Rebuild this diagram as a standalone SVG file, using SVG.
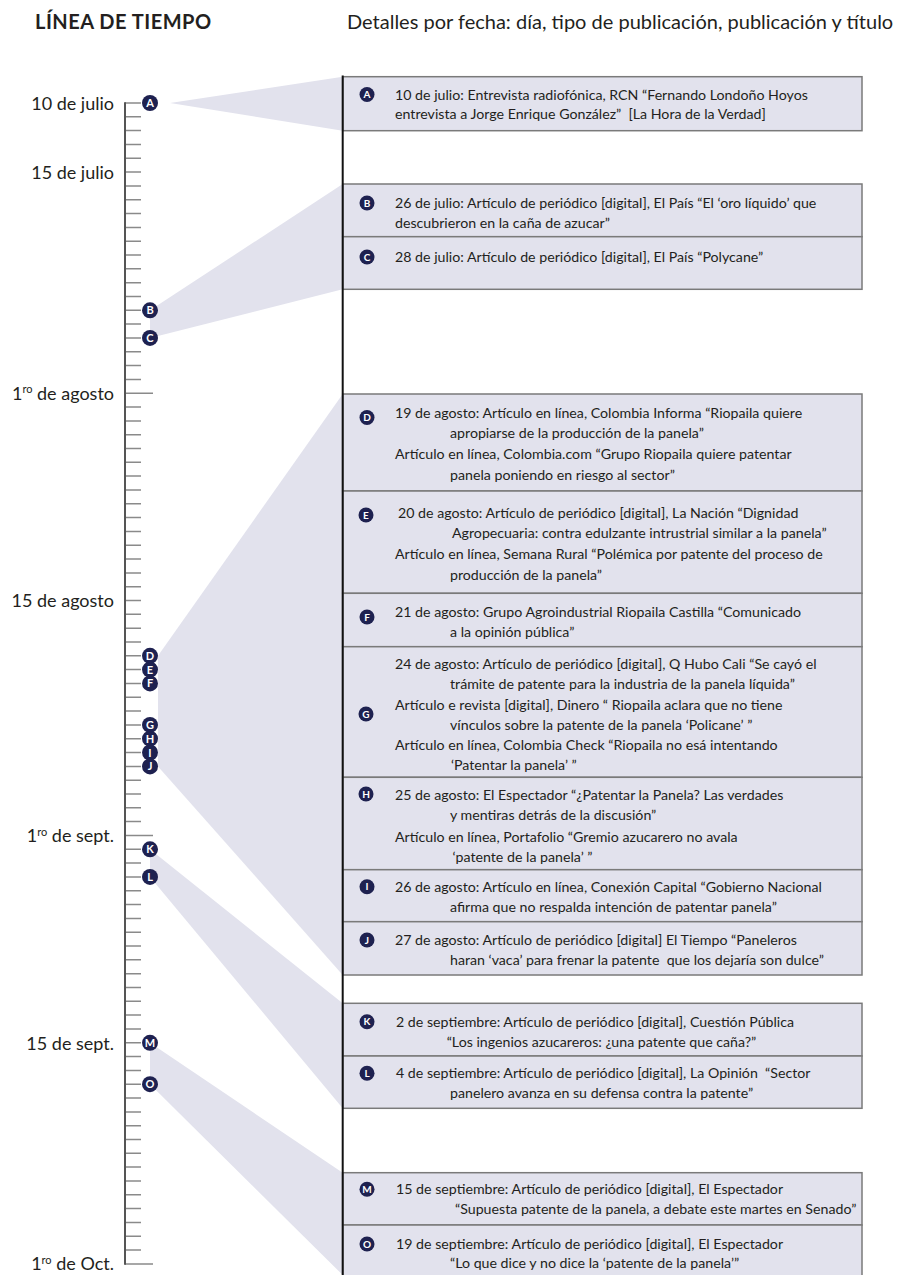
<svg xmlns="http://www.w3.org/2000/svg" width="901" height="1275" viewBox="0 0 901 1275">
<style>
.t{font-family:Lato,"Open Sans",sans-serif;font-size:14.2px;fill:#231f20;white-space:pre}
.lab{font-family:Lato,"Open Sans",sans-serif;font-size:18px;fill:#231f20;text-anchor:end}
.sup{font-size:11px}
.box{fill:#e2e2ed;stroke:#7a7a7a;stroke-width:1.5}
.wedge{fill:#e2e2ed}
.dot{fill:#1e2150}
.dl{font-family:Lato,"Open Sans",sans-serif;font-size:11px;font-weight:bold;fill:#fff;text-anchor:middle}
.bl{font-family:Lato,"Open Sans",sans-serif;font-size:10px;font-weight:bold;fill:#fff;text-anchor:middle}
</style>
<rect width="901" height="1275" fill="#fff"/>
<text x="35" y="29" style="font-family:Lato,'Open Sans',sans-serif;font-size:20px;font-weight:bold;letter-spacing:0.5px;fill:#231f20">LÍNEA DE TIEMPO</text>
<text x="347" y="29" style="font-family:Lato,'Open Sans',sans-serif;font-size:20px;fill:#231f20">Detalles por fecha: día, tipo de publicación, publicación y título</text>
<g id="connectors">
<polygon class="wedge" points="170,103 342.7,76.7 342.7,130.7"/>
<polygon class="wedge" points="150,310.3 342.7,184 342.7,289.3 150,337.9"/>
<polygon class="wedge" points="158,655.8 342.7,394 342.7,975 158,766.4"/>
<polygon class="wedge" points="150,849.3 342.7,1003.3 342.7,1108.3 150,876.9"/>
<polygon class="wedge" points="150,1042.8 342.7,1172.7 342.7,1275 150,1084.2"/>
</g>
<g id="timeline">
<path d="M125 103h16M125 116.8h16M125 130.6h16M125 144.5h16M125 158.3h16M125 172.1h16M125 185.9h16M125 199.7h16M125 213.6h16M125 227.4h16M125 241.2h16M125 255h16M125 268.8h16M125 282.7h16M125 296.5h16M125 310.3h16M125 324.1h16M125 337.9h16M125 351.8h16M125 365.6h16M125 379.4h16M125 393.2h28M125 407h16M125 420.9h16M125 434.7h16M125 448.5h16M125 462.3h16M125 476.1h16M125 490h16M125 503.8h16M125 517.6h16M125 531.4h16M125 545.2h16M125 559.1h16M125 572.9h16M125 586.7h16M125 600.5h16M125 614.3h16M125 628.2h16M125 642h16M125 655.8h16M125 669.6h16M125 683.4h16M125 697.3h16M125 711.1h16M125 724.9h16M125 738.7h16M125 752.5h16M125 766.4h16M125 780.2h16M125 794h16M125 807.8h16M125 821.6h16M125 835.5h28M125 849.3h16M125 863.1h16M125 876.9h16M125 890.7h16M125 904.6h16M125 918.4h16M125 932.2h16M125 946h16M125 959.8h16M125 973.7h16M125 987.5h16M125 1001.3h16M125 1015.1h16M125 1028.9h16M125 1042.8h16M125 1056.6h16M125 1070.4h16M125 1084.2h16M125 1098h16M125 1111.9h16M125 1125.7h16M125 1139.5h16M125 1153.3h16M125 1167.1h16M125 1181h16M125 1194.8h16M125 1208.6h16M125 1222.4h16M125 1236.2h16M125 1250.1h16M125 1263.9h28" stroke="#8a8a8a" stroke-width="1.5" fill="none"/>
<line x1="125" y1="102.2" x2="125" y2="1264.7" stroke="#555" stroke-width="2"/>
<text class="lab" x="114" y="109.5">10 de julio</text>
<text class="lab" x="114" y="178.5">15 de julio</text>
<text class="lab" x="114" y="399.5">1<tspan class="sup" dy="-6.5">ro</tspan><tspan dy="6.5"> de agosto</tspan></text>
<text class="lab" x="114" y="606.5">15 de agosto</text>
<text class="lab" x="114" y="842">1<tspan class="sup" dy="-6.5">ro</tspan><tspan dy="6.5"> de sept.</tspan></text>
<text class="lab" x="114" y="1049.5">15 de sept.</text>
<text class="lab" x="114" y="1270">1<tspan class="sup" dy="-6.5">ro</tspan><tspan dy="6.5"> de Oct.</tspan></text>
</g>
<g id="marker-A"><circle class="dot" cx="150" cy="103" r="8"/><text class="dl" x="150" y="107">A</text></g>
<g id="marker-B"><circle class="dot" cx="150" cy="310.3" r="8"/><text class="dl" x="150" y="314.3">B</text></g>
<g id="marker-C"><circle class="dot" cx="150" cy="337.9" r="8"/><text class="dl" x="150" y="341.9">C</text></g>
<g id="marker-D"><circle class="dot" cx="150" cy="655.8" r="8"/><text class="dl" x="150" y="659.8">D</text></g>
<g id="marker-E"><circle class="dot" cx="150" cy="669.6" r="8"/><text class="dl" x="150" y="673.6">E</text></g>
<g id="marker-F"><circle class="dot" cx="150" cy="683.4" r="8"/><text class="dl" x="150" y="687.4">F</text></g>
<g id="marker-G"><circle class="dot" cx="150" cy="724.9" r="8"/><text class="dl" x="150" y="728.9">G</text></g>
<g id="marker-H"><circle class="dot" cx="150" cy="738.7" r="8"/><text class="dl" x="150" y="742.7">H</text></g>
<g id="marker-I"><circle class="dot" cx="150" cy="752.5" r="8"/><text class="dl" x="150" y="756.5">I</text></g>
<g id="marker-J"><circle class="dot" cx="150" cy="766.4" r="8"/><text class="dl" x="150" y="770.4">J</text></g>
<g id="marker-K"><circle class="dot" cx="150" cy="849.3" r="8"/><text class="dl" x="150" y="853.3">K</text></g>
<g id="marker-L"><circle class="dot" cx="150" cy="876.9" r="8"/><text class="dl" x="150" y="880.9">L</text></g>
<g id="marker-M"><circle class="dot" cx="150" cy="1042.8" r="8"/><text class="dl" x="150" y="1046.8">M</text></g>
<g id="marker-O"><circle class="dot" cx="150" cy="1084.2" r="8"/><text class="dl" x="150" y="1088.2">O</text></g>

<g id="box-A"><rect class="box" x="342.7" y="76.7" width="519.3" height="54"/>
<circle class="dot" cx="367" cy="94.5" r="7.5"/><text class="bl" x="367" y="98">A</text>
<text class="t" x="395" y="100">10 de julio: Entrevista radiofónica, RCN “Fernando Londoño Hoyos</text>
<text class="t" x="395" y="119.3">entrevista a Jorge Enrique González”  [La Hora de la Verdad]</text></g>
<g id="box-B"><rect class="box" x="342.7" y="184" width="519.3" height="52.7"/>
<circle class="dot" cx="367" cy="203" r="7.5"/><text class="bl" x="367" y="206.5">B</text>
<text class="t" x="395" y="208.3">26 de julio: Artículo de periódico [digital], El País “El ‘oro líquido’ que</text>
<text class="t" x="395" y="227.7">descubrieron en la caña de azucar”</text></g>
<g id="box-C"><rect class="box" x="342.7" y="236.7" width="519.3" height="52.6"/>
<circle class="dot" cx="367" cy="257" r="7.5"/><text class="bl" x="367" y="260.5">C</text>
<text class="t" x="395" y="262.3">28 de julio: Artículo de periódico [digital], El País “Polycane”</text></g>
<g id="box-D"><rect class="box" x="342.7" y="394" width="519.3" height="97"/>
<circle class="dot" cx="367" cy="417.5" r="7.5"/><text class="bl" x="367" y="421">D</text>
<text class="t" x="395" y="418.3">19 de agosto: Artículo en línea, Colombia Informa “Riopaila quiere</text>
<text class="t" x="450" y="438.3">apropiarse de la producción de la panela”</text>
<text class="t" x="395" y="459">Artículo en línea, Colombia.com “Grupo Riopaila quiere patentar</text>
<text class="t" x="450" y="480">panela poniendo en riesgo al sector”</text></g>
<g id="box-E"><rect class="box" x="342.7" y="491" width="519.3" height="102.3"/>
<circle class="dot" cx="366" cy="515" r="7.5"/><text class="bl" x="366" y="518.5">E</text>
<text class="t" x="398" y="518.3">20 de agosto: Artículo de periódico [digital], La Nación “Dignidad</text>
<text class="t" x="452" y="538.3">Agropecuaria: contra edulzante intrustrial similar a la panela”</text>
<text class="t" x="395" y="559">Artículo en línea, Semana Rural “Polémica por patente del proceso de</text>
<text class="t" x="450" y="580">producción de la panela”</text></g>
<g id="box-F"><rect class="box" x="342.7" y="593.3" width="519.3" height="53.4"/>
<circle class="dot" cx="367" cy="617" r="7.5"/><text class="bl" x="367" y="620.5">F</text>
<text class="t" x="395" y="616.7">21 de agosto: Grupo Agroindustrial Riopaila Castilla “Comunicado</text>
<text class="t" x="450" y="636.7">a la opinión pública”</text></g>
<g id="box-G"><rect class="box" x="342.7" y="646.7" width="519.3" height="130.6"/>
<circle class="dot" cx="366" cy="714" r="7.5"/><text class="bl" x="366" y="717.5">G</text>
<text class="t" x="395" y="669">24 de agosto: Artículo de periódico [digital], Q Hubo Cali “Se cayó el</text>
<text class="t" x="450" y="689.3">trámite de patente para la industria de la panela líquida”</text>
<text class="t" x="395" y="710">Artículo e revista [digital], Dinero “ Riopaila aclara que no tiene</text>
<text class="t" x="450" y="730">vínculos sobre la patente de la panela ‘Policane’ ”</text>
<text class="t" x="395" y="750">Artículo en línea, Colombia Check “Riopaila no esá intentando</text>
<text class="t" x="451" y="770">‘Patentar la panela’ ”</text></g>
<g id="box-H"><rect class="box" x="342.7" y="777.3" width="519.3" height="92.4"/>
<circle class="dot" cx="366" cy="794" r="7.5"/><text class="bl" x="366" y="797.5">H</text>
<text class="t" x="395" y="800">25 de agosto: El Espectador “¿Patentar la Panela? Las verdades</text>
<text class="t" x="450" y="820">y mentiras detrás de la discusión”</text>
<text class="t" x="395" y="841.7">Artículo en línea, Portafolio “Gremio azucarero no avala</text>
<text class="t" x="452.5" y="861.7">‘patente de la panela’ ”</text></g>
<g id="box-I"><rect class="box" x="342.7" y="869.7" width="519.3" height="52"/>
<circle class="dot" cx="367" cy="886.7" r="7.5"/><text class="bl" x="367" y="890.2">I</text>
<text class="t" x="395" y="891.7">26 de agosto: Artículo en línea, Conexión Capital “Gobierno Nacional</text>
<text class="t" x="450" y="911.7">afirma que no respalda intención de patentar panela”</text></g>
<g id="box-J"><rect class="box" x="342.7" y="921.7" width="519.3" height="53.3"/>
<circle class="dot" cx="367" cy="940" r="7.5"/><text class="bl" x="367" y="943.5">J</text>
<text class="t" x="395" y="945">27 de agosto: Artículo de periódico [digital] El Tiempo “Paneleros</text>
<text class="t" x="450" y="965">haran ‘vaca’ para frenar la patente  que los dejaría son dulce”</text></g>
<g id="box-K"><rect class="box" x="342.7" y="1003.3" width="519.3" height="52.7"/>
<circle class="dot" cx="367" cy="1021.7" r="7.5"/><text class="bl" x="367" y="1025.2">K</text>
<text class="t" x="396" y="1026.7">2 de septiembre: Artículo de periódico [digital], Cuestión Pública</text>
<text class="t" x="446.7" y="1046.7">“Los ingenios azucareros: ¿una patente que caña?”</text></g>
<g id="box-L"><rect class="box" x="342.7" y="1056" width="519.3" height="52.3"/>
<circle class="dot" cx="367" cy="1073.3" r="7.5"/><text class="bl" x="367" y="1076.8">L</text>
<text class="t" x="396" y="1078.3">4 de septiembre: Artículo de periódico [digital], La Opinión  “Sector</text>
<text class="t" x="450" y="1098.3">panelero avanza en su defensa contra la patente”</text></g>
<g id="box-M"><rect class="box" x="342.7" y="1172.7" width="519.3" height="52.3"/>
<circle class="dot" cx="367" cy="1189.3" r="7.5"/><text class="bl" x="367" y="1192.8">M</text>
<text class="t" x="396" y="1194.3">15 de septiembre: Artículo de periódico [digital], El Espectador</text>
<text class="t" x="455" y="1214.3">“Supuesta patente de la panela, a debate este martes en Senado”</text></g>
<g id="box-O"><rect class="box" x="342.7" y="1225" width="519.3" height="60"/>
<circle class="dot" cx="367" cy="1244" r="7.5"/><text class="bl" x="367" y="1247.5">O</text>
<text class="t" x="396" y="1249">19 de septiembre: Artículo de periódico [digital], El Espectador</text>
<text class="t" x="450" y="1268.3">“Lo que dice y no dice la ‘patente de la panela’”</text></g>
<line x1="342.7" y1="75.5" x2="342.7" y2="1275" stroke="#111" stroke-width="2"/>
</svg>
